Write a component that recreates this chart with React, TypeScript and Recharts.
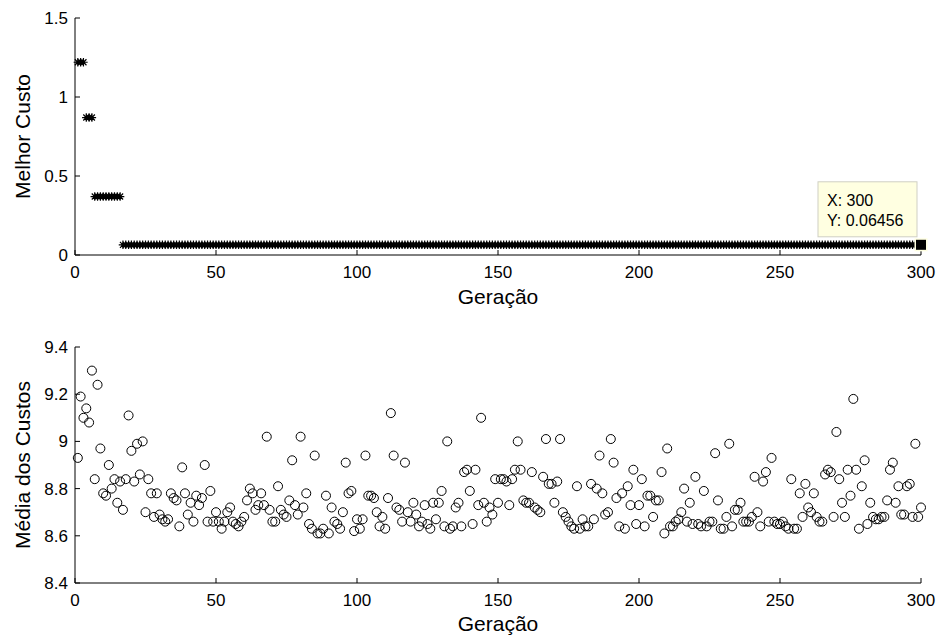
import { ScatterChart, Scatter, XAxis, YAxis } from "recharts";

const geracaoTicks = [0, 50, 100, 150, 200, 250, 300];
const melhorTicks = [0, 0.5, 1, 1.5];
const mediaTicks = [8.4, 8.6, 8.8, 9, 9.2, 9.4];

// best cost per generation, kept as runs (first gen, last gen, value)
const melhorDe = [1, 4, 7, 17];
const melhorAte = [3, 6, 16, 300];
const melhorValor = [1.22, 0.87, 0.37, 0.06456];

// mean cost of the population, generations 1..300
const mediaCustos = [
  8.93, 9.19, 9.10, 9.14, 9.08, 9.30, 8.84, 9.24, 8.97, 8.78,
  8.77, 8.90, 8.80, 8.84, 8.74, 8.83, 8.71, 8.84, 9.11, 8.96,
  8.83, 8.99, 8.86, 9.00, 8.70, 8.84, 8.78, 8.68, 8.78, 8.69,
  8.67, 8.66, 8.67, 8.78, 8.76, 8.75, 8.64, 8.89, 8.78, 8.69,
  8.74, 8.66, 8.77, 8.73, 8.76, 8.90, 8.66, 8.79, 8.66, 8.70,
  8.66, 8.63, 8.66, 8.70, 8.72, 8.66, 8.65, 8.64, 8.66, 8.68,
  8.75, 8.80, 8.78, 8.71, 8.73, 8.78, 8.73, 9.02, 8.71, 8.66,
  8.66, 8.81, 8.71, 8.69, 8.68, 8.75, 8.92, 8.73, 8.69, 9.02,
  8.72, 8.78, 8.65, 8.63, 8.94, 8.61, 8.61, 8.63, 8.77, 8.61,
  8.72, 8.66, 8.65, 8.63, 8.70, 8.91, 8.78, 8.79, 8.62, 8.67,
  8.63, 8.67, 8.94, 8.77, 8.77, 8.76, 8.70, 8.64, 8.68, 8.63,
  8.76, 9.12, 8.94, 8.72, 8.71, 8.66, 8.91, 8.70, 8.66, 8.74,
  8.69, 8.64, 8.66, 8.73, 8.65, 8.63, 8.74, 8.67, 8.74, 8.79,
  8.64, 9.00, 8.63, 8.64, 8.72, 8.74, 8.64, 8.87, 8.88, 8.79,
  8.65, 8.88, 8.73, 9.10, 8.74, 8.66, 8.72, 8.69, 8.84, 8.74,
  8.84, 8.84, 8.83, 8.73, 8.84, 8.88, 9.00, 8.88, 8.75, 8.74,
  8.74, 8.87, 8.72, 8.71, 8.70, 8.85, 9.01, 8.82, 8.82, 8.74,
  8.83, 9.01, 8.70, 8.68, 8.66, 8.64, 8.63, 8.81, 8.63, 8.67,
  8.64, 8.64, 8.82, 8.67, 8.80, 8.94, 8.78, 8.69, 8.70, 9.01,
  8.91, 8.76, 8.64, 8.78, 8.63, 8.81, 8.73, 8.88, 8.65, 8.73,
  8.84, 8.64, 8.77, 8.77, 8.68, 8.75, 8.75, 8.87, 8.61, 8.97,
  8.64, 8.64, 8.66, 8.67, 8.70, 8.80, 8.66, 8.74, 8.65, 8.85,
  8.65, 8.64, 8.79, 8.64, 8.66, 8.66, 8.95, 8.75, 8.63, 8.63,
  8.68, 8.99, 8.64, 8.71, 8.71, 8.74, 8.66, 8.66, 8.66, 8.68,
  8.85, 8.70, 8.64, 8.83, 8.87, 8.66, 8.93, 8.66, 8.65, 8.65,
  8.66, 8.64, 8.63, 8.84, 8.63, 8.63, 8.78, 8.68, 8.82, 8.72,
  8.70, 8.78, 8.68, 8.66, 8.66, 8.86, 8.88, 8.87, 8.68, 9.04,
  8.84, 8.74, 8.68, 8.88, 8.77, 9.18, 8.88, 8.63, 8.81, 8.92,
  8.65, 8.74, 8.68, 8.67, 8.67, 8.68, 8.68, 8.75, 8.88, 8.91,
  8.74, 8.81, 8.69, 8.69, 8.81, 8.82, 8.68, 8.99, 8.68, 8.72,
];

const dataTip = { x: 300, y: 0.06456 };

const melhorData: { x: number; y: number }[] = [];
melhorDe.forEach((de, i) => {
  for (let g = de; g <= melhorAte[i]; g++) melhorData.push({ x: g, y: melhorValor[i] });
});
const mediaData = mediaCustos.map((y, i) => ({ x: i + 1, y }));

const FONT = '"Liberation Sans", Arial, Helvetica, sans-serif';
const tickStyle = { fill: "#000", fontSize: 17 };
const axisStroke = { stroke: "#000", strokeWidth: 1 };

function Asterisk({ cx, cy }: any) {
  const r = 4.2;
  const d = 3;
  return (
    <path
      d={`M${cx - r},${cy}H${cx + r}M${cx},${cy - r}V${cy + r}M${cx - d},${cy - d}L${cx + d},${cy + d}M${cx - d},${cy + d}L${cx + d},${cy - d}`}
      stroke="#000"
      strokeWidth={1.2}
      fill="none"
    />
  );
}

function Ring({ cx, cy }: any) {
  return <circle cx={cx} cy={cy} r={4.5} fill="none" stroke="#000" strokeWidth={1} />;
}

function DataTip({ cx, cy }: any) {
  return (
    <g>
      <rect x={cx - 103} y={cy - 63} width={99} height={55} fill="#ffffe1" stroke="#cfcfc4" />
      <text x={cx - 94} y={cy - 39} fontSize={16} fill="#000">{`X: ${dataTip.x}`}</text>
      <text x={cx - 94} y={cy - 19} fontSize={16} fill="#000">{`Y: ${dataTip.y}`}</text>
      <rect x={cx - 6.5} y={cy - 6.5} width={13} height={13} fill="#ffffe1" />
      <rect x={cx - 5} y={cy - 5} width={10} height={10} fill="#000" />
    </g>
  );
}

const xLabel = (offset: number) => (props: any) => {
  const vb = props.viewBox;
  return (
    <text x={vb.x + vb.width / 2} y={vb.y + vb.height - offset} textAnchor="middle" fontSize={21} fill="#000">
      Geração
    </text>
  );
};

const yLabel = (text: string) => (props: any) => {
  const vb = props.viewBox;
  const x = 30;
  const y = vb.y + vb.height / 2;
  return (
    <text x={x} y={y} transform={`rotate(-90 ${x} ${y})`} textAnchor="middle" fontSize={21} fill="#000">
      {text}
    </text>
  );
};

const blank = () => "";

export default function App() {
  return (
    <div
      style={{
        position: "absolute",
        left: 0,
        top: 0,
        width: 938,
        height: 635,
        background: "#fff",
        fontFamily: FONT,
      }}
    >
      <div style={{ position: "absolute", left: 0, top: 0 }}>
        <ScatterChart width={938} height={310} margin={{ top: 18, right: 17, bottom: 0, left: 0 }}>
          <XAxis
            xAxisId="b"
            type="number"
            dataKey="x"
            domain={[0, 300]}
            ticks={geracaoTicks}
            interval={0}
            tickSize={-5}
            tickMargin={16}
            height={55}
            axisLine={axisStroke}
            tickLine={axisStroke}
            tick={tickStyle}
            label={{ content: xLabel(6) }}
          />
          <XAxis
            xAxisId="t"
            orientation="top"
            type="number"
            domain={[0, 300]}
            ticks={geracaoTicks}
            interval={0}
            mirror
            height={0}
            tickSize={5}
            axisLine={axisStroke}
            tickLine={axisStroke}
            tickFormatter={blank}
            allowDataOverflow
          />
          <YAxis
            yAxisId="l"
            type="number"
            dataKey="y"
            domain={[0, 1.5]}
            ticks={melhorTicks}
            interval={0}
            tickSize={-5}
            tickMargin={12}
            width={75}
            axisLine={axisStroke}
            tickLine={axisStroke}
            tick={tickStyle}
            label={{ content: yLabel("Melhor Custo") }}
          />
          <YAxis
            yAxisId="r"
            orientation="right"
            type="number"
            domain={[0, 1.5]}
            ticks={melhorTicks}
            interval={0}
            mirror
            width={0}
            tickSize={5}
            axisLine={axisStroke}
            tickLine={axisStroke}
            tickFormatter={blank}
            allowDataOverflow
          />
          <Scatter xAxisId="b" yAxisId="l" data={melhorData} shape={Asterisk} isAnimationActive={false} />
          <Scatter xAxisId="b" yAxisId="l" data={[dataTip]} shape={DataTip} isAnimationActive={false} />
        </ScatterChart>
      </div>
      <div style={{ position: "absolute", left: 0, top: 310 }}>
        <ScatterChart width={938} height={325} margin={{ top: 37, right: 17, bottom: 0, left: 0 }}>
          <XAxis
            xAxisId="b"
            type="number"
            dataKey="x"
            domain={[0, 300]}
            ticks={geracaoTicks}
            interval={0}
            tickSize={-5}
            tickMargin={16}
            height={52}
            axisLine={axisStroke}
            tickLine={axisStroke}
            tick={tickStyle}
            label={{ content: xLabel(4) }}
          />
          <XAxis
            xAxisId="t"
            orientation="top"
            type="number"
            domain={[0, 300]}
            ticks={geracaoTicks}
            interval={0}
            mirror
            height={0}
            tickSize={5}
            axisLine={axisStroke}
            tickLine={axisStroke}
            tickFormatter={blank}
            allowDataOverflow
          />
          <YAxis
            yAxisId="l"
            type="number"
            dataKey="y"
            domain={[8.4, 9.4]}
            ticks={mediaTicks}
            interval={0}
            tickSize={-5}
            tickMargin={12}
            width={75}
            axisLine={axisStroke}
            tickLine={axisStroke}
            tick={tickStyle}
            label={{ content: yLabel("Média dos Custos") }}
          />
          <YAxis
            yAxisId="r"
            orientation="right"
            type="number"
            domain={[8.4, 9.4]}
            ticks={mediaTicks}
            interval={0}
            mirror
            width={0}
            tickSize={5}
            axisLine={axisStroke}
            tickLine={axisStroke}
            tickFormatter={blank}
            allowDataOverflow
          />
          <Scatter xAxisId="b" yAxisId="l" data={mediaData} shape={Ring} isAnimationActive={false} />
        </ScatterChart>
      </div>
    </div>
  );
}
